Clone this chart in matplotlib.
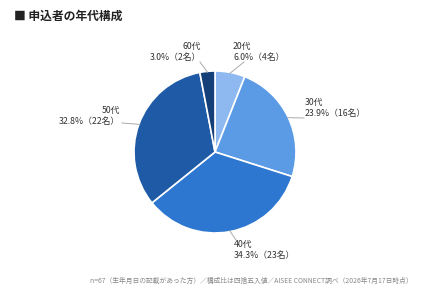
import numpy as np
import matplotlib
matplotlib.use("Agg")
import matplotlib.pyplot as plt

plt.rcParams['font.family'] = ['Noto Sans CJK JP', 'DejaVu Sans']

# data
ages = ["20代", "30代", "40代", "50代", "60代"]
shares = [6.0, 23.9, 34.3, 32.8, 3.0]
counts = [4, 16, 23, 22, 2]
colors = ["#8db8f0", "#5b9be6", "#2e77d0", "#1f5aa6", "#143f78"]

W, H = 430, 291
CX, CY, R = 215, 152, 81   # pie centre / radius in pixels

fig = plt.figure(figsize=(W / 100, H / 100), dpi=100)
ax = fig.add_axes([0, 0, 1, 1])

wedges, _ = ax.pie(shares, colors=colors, startangle=90, counterclock=False,
                   radius=1.0, wedgeprops=dict(edgecolor="white", linewidth=1.2))

ax.set_aspect("auto")
ax.set_xlim(-CX / R, (W - CX) / R)
ax.set_ylim(-(H - CY) / R, CY / R)
ax.axis("off")

def px(x, y):
    return (x - CX) / R, (CY - y) / R

# label anchor (pixels), alignment, leader end (pixels)
layout = {
    "20代": ((233, 52), "left", (244, 62)),
    "30代": ((305, 108), "left", (304, 118)),
    "40代": ((234, 250), "left", (236, 240)),
    "50代": ((120, 116), "right", (122, 123)),
    "60代": ((201, 52), "right", (200, 62)),
}

for w, age, s, c in zip(wedges, ages, shares, counts):
    (tx, ty), ha, (lx, ly) = layout[age]
    mid = np.deg2rad((w.theta1 + w.theta2) / 2)
    sx, sy = np.cos(mid) * 0.99, np.sin(mid) * 0.99
    ex, ey = px(lx, ly)
    ax.plot([sx, ex], [sy, ey], color="#aaaaaa", lw=0.7)
    ax.text(*px(tx, ty), f"{age}\n{s:.1f}%（{c}名）", ha=ha, va="center",
            fontsize=6.3, color="#333333", linespacing=1.25)

fig.text(14 / W, 1 - 16 / H, "■ 申込者の年代構成", fontsize=8.5, fontweight="bold",
         color="#222222", ha="left", va="center")
fig.text(413 / W, 1 - 281 / H,
         "n=67（生年月日の記載があった方）／構成比は四捨五入値／AISEE CONNECT調べ（2026年7月17日時点）",
         fontsize=4.9, color="#888888", ha="right", va="center")

fig.savefig("out.png", dpi=100, facecolor="white")
